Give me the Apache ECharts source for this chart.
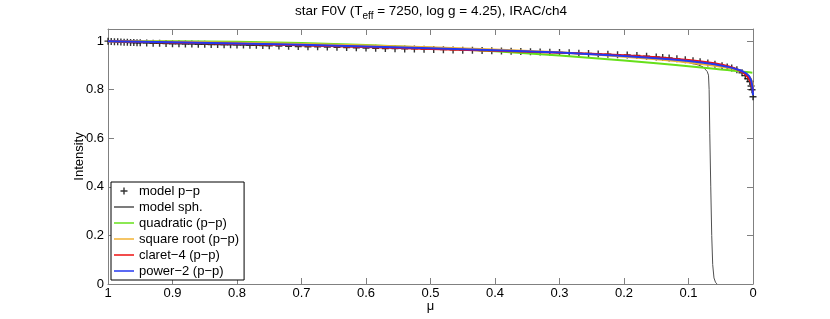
<!DOCTYPE html>
<html><head><meta charset="utf-8">
<script src="https://cdn.jsdelivr.net/npm/echarts@6/dist/echarts.min.js"></script>
<style>html,body{margin:0;padding:0;background:#fff}#c{width:830px;height:319px}</style>
</head><body><div id="c"></div>
<script>
// model p-p (plus markers)
const ppMu = [1, 0.995, 0.99, 0.985, 0.98, 0.975, 0.97, 0.965, 0.96, 0.955, 0.95,
  0.94, 0.93, 0.92, 0.91, 0.9, 0.89, 0.88, 0.87, 0.86, 0.85, 0.84, 0.83, 0.82, 0.81, 0.8, 0.79, 0.78, 0.77, 0.76, 0.75,
  0.735, 0.72, 0.705, 0.69, 0.675, 0.66, 0.645, 0.63, 0.615, 0.6, 0.585, 0.57, 0.555, 0.54, 0.525, 0.51, 0.495, 0.48, 0.465, 0.45,
  0.435, 0.42, 0.405, 0.39, 0.375, 0.36, 0.345, 0.33, 0.315, 0.3, 0.285, 0.27, 0.255, 0.24, 0.225, 0.21, 0.195, 0.18, 0.165, 0.15,
  0.14, 0.13, 0.118, 0.105, 0.093, 0.082, 0.07, 0.059, 0.048, 0.04, 0.033, 0.025, 0.017, 0.012, 0.008, 0.005, 0.003, 0.0015, 0];
const ppI = [1.000, 0.999, 0.998, 0.997, 0.996, 0.995, 0.995, 0.994, 0.994, 0.993, 0.993,
  0.992, 0.991, 0.991, 0.990, 0.989, 0.989, 0.988, 0.988, 0.987, 0.987, 0.986, 0.986, 0.985, 0.985, 0.984, 0.984, 0.983, 0.983, 0.982, 0.981,
  0.980, 0.979, 0.978, 0.977, 0.977, 0.976, 0.975, 0.974, 0.973, 0.972, 0.971, 0.970, 0.969, 0.968, 0.968, 0.967, 0.966, 0.965, 0.964, 0.963,
  0.962, 0.961, 0.960, 0.959, 0.958, 0.957, 0.956, 0.955, 0.954, 0.953, 0.952, 0.950, 0.949, 0.947, 0.946, 0.944, 0.943, 0.941, 0.938, 0.935,
  0.933, 0.931, 0.927, 0.923, 0.919, 0.915, 0.910, 0.905, 0.899, 0.894, 0.889, 0.882, 0.870, 0.858, 0.845, 0.834, 0.815, 0.800, 0.771];

// model spherical (thin dark line)
const sphMu = [1, 0.9, 0.8, 0.7, 0.6, 0.5, 0.4, 0.3, 0.2, 0.15, 0.1, 0.085, 0.0775, 0.0744, 0.071, 0.069, 0.068, 0.067, 0.0655, 0.064, 0.0625, 0.0605, 0.058, 0.0555];
const sphI = [1, 0.993, 0.988, 0.981, 0.975, 0.968, 0.961, 0.952, 0.939, 0.929, 0.912, 0.902, 0.894, 0.888, 0.875, 0.86, 0.80, 0.62, 0.40, 0.20, 0.08, 0.025, 0.006, 0];

// fitted laws
const fitMu = [1, 0.9, 0.8, 0.7, 0.6, 0.5, 0.4, 0.3, 0.25, 0.2, 0.15, 0.12, 0.1, 0.08, 0.06, 0.05, 0.04, 0.03, 0.02, 0.015, 0.01, 0.006, 0.003, 0.001, 0];
const quadI = [1, 1.0, 0.998, 0.9925, 0.984, 0.9725, 0.958, 0.9405, 0.9306, 0.920, 0.9086, 0.9014, 0.8965, 0.8914, 0.8863, 0.8836, 0.881, 0.8783, 0.8755, 0.8742, 0.8728, 0.8717, 0.8709, 0.8703, 0.870];
const sqrtI = [1, 0.997, 0.993, 0.988, 0.982, 0.975, 0.966, 0.954, 0.946, 0.936, 0.925, 0.918, 0.912, 0.906, 0.899, 0.895, 0.891, 0.886, 0.878, 0.873, 0.865, 0.855, 0.843, 0.828, 0.812];
const claretI = [1, 0.994, 0.989, 0.983, 0.976, 0.968, 0.960, 0.952, 0.948, 0.942, 0.934, 0.927, 0.922, 0.916, 0.909, 0.904, 0.898, 0.890, 0.878, 0.870, 0.858, 0.845, 0.828, 0.808, 0.790];
const powerI = [1, 0.995, 0.990, 0.985, 0.978, 0.971, 0.963, 0.953, 0.946, 0.939, 0.930, 0.923, 0.918, 0.912, 0.905, 0.900, 0.895, 0.888, 0.880, 0.874, 0.866, 0.856, 0.840, 0.815, 0.778];

const xTicks = [1, 0.9, 0.8, 0.7, 0.6, 0.5, 0.4, 0.3, 0.2, 0.1, 0];
const yTicks = [0, 0.2, 0.4, 0.6, 0.8, 1];
const seriesNames = ['model p\u2212p', 'model sph.', 'quadratic (p\u2212p)', 'square root (p\u2212p)', 'claret\u22124 (p\u2212p)', 'power\u22122 (p\u2212p)'];

const FONT = 'Liberation Sans';
const AX = '#808080';
const plus = 'path://M4,0h2v4h4v2h-4v4h-2v-4h-4v-2h4z';
const lineIcon = 'path://M0,0h40v3h-40z';
const pairs = (xs, ys) => xs.map((x, i) => [x, ys[i]]);
const fmt = v => String(+(+v).toFixed(2));

const chart = echarts.init(document.getElementById('c'));
const lineS = (name, mu, vals, color, w, z) => ({
  type: 'line', name, data: pairs(mu, vals), symbol: 'none', showSymbol: false,
  legendIcon: lineIcon,
  lineStyle: { color, width: w }, itemStyle: { color }, z, silent: true
});
chart.setOption({
  animation: false,
  title: {
    text: '{n|star F0V (T}{s|eff}{n| = 7250, log g = 4.25), IRAC/ch4}',
    left: 431, textAlign: 'center', top: 1, padding: 0,
    textStyle: { fontWeight: 'normal', rich: {
      n: { fontFamily: FONT, fontSize: 13.5, fontWeight: 'normal', color: '#000', lineHeight: 20 },
      s: { fontFamily: FONT, fontSize: 10, fontWeight: 'normal', color: '#000', lineHeight: 11, verticalAlign: 'bottom' }
    } }
  },
  grid: { left: 108, right: 77, top: 29, bottom: 35, containLabel: false },
  legend: {
    orient: 'vertical', left: 111, top: 182, padding: [2, 5, 2, 3],
    borderColor: '#000', borderWidth: 1, backgroundColor: '#fff',
    itemWidth: 20, itemHeight: 7, itemGap: 2,
    textStyle: { fontFamily: FONT, fontSize: 13, color: '#000', lineHeight: 14 },
    data: [
      { name: seriesNames[0], icon: plus },
      { name: seriesNames[1], icon: lineIcon },
      { name: seriesNames[2], icon: lineIcon },
      { name: seriesNames[3], icon: lineIcon },
      { name: seriesNames[4], icon: lineIcon },
      { name: seriesNames[5], icon: lineIcon }
    ],
    selectedMode: false
  },
  xAxis: [{
    type: 'value', min: 0, max: 1, interval: 0.1, inverse: true, position: 'bottom',
    axisLine: { show: true, onZero: false, lineStyle: { color: AX } },
    axisTick: { show: true, inside: true, length: 6, lineStyle: { color: AX } },
    axisLabel: { show: true, margin: 3, fontFamily: FONT, fontSize: 13, color: '#000', formatter: fmt, customValues: xTicks },
    splitLine: { show: false },
    name: '\u03bc', nameLocation: 'middle', nameGap: 16, nameMoveOverlap: false,
    nameTextStyle: { fontFamily: FONT, fontSize: 13, color: '#000' }
  }, {
    type: 'value', min: 0, max: 1, interval: 0.1, inverse: true, position: 'top',
    axisLine: { show: true, onZero: false, lineStyle: { color: AX } },
    axisTick: { show: true, inside: true, length: 6, lineStyle: { color: AX } },
    axisLabel: { show: false }, splitLine: { show: false }
  }],
  yAxis: [{
    type: 'value', min: 0, max: 1.05, position: 'left',
    axisLine: { show: true, onZero: false, lineStyle: { color: AX } },
    axisTick: { show: true, inside: true, length: 6, lineStyle: { color: AX }, customValues: yTicks },
    axisLabel: { show: true, margin: 4, fontFamily: FONT, fontSize: 13, color: '#000', formatter: fmt, customValues: yTicks },
    splitLine: { show: false },
    name: 'Intensity', nameLocation: 'middle', nameGap: 22, nameMoveOverlap: false,
    nameTextStyle: { fontFamily: FONT, fontSize: 13, color: '#000' }
  }, {
    type: 'value', min: 0, max: 1.05, position: 'right',
    axisLine: { show: true, onZero: false, lineStyle: { color: AX } },
    axisTick: { show: true, inside: true, length: 6, lineStyle: { color: AX }, customValues: yTicks },
    axisLabel: { show: false }, splitLine: { show: false }
  }],
  series: [
    { type: 'scatter', name: seriesNames[0], data: pairs(ppMu, ppI), symbol: plus, symbolSize: 7,
      legendIcon: plus, itemStyle: { color: '#000' }, z: 2, silent: true },
    lineS(seriesNames[1], sphMu, sphI, '#505050', 1, 3),
    lineS(seriesNames[2], fitMu, quadI, '#66e01a', 2, 4),
    lineS(seriesNames[3], fitMu, sqrtI, '#f2b233', 2, 5),
    lineS(seriesNames[4], fitMu, claretI, '#ee1111', 2, 6),
    lineS(seriesNames[5], fitMu, powerI, '#2438f0', 2, 7)
  ]
});
</script></body></html>
